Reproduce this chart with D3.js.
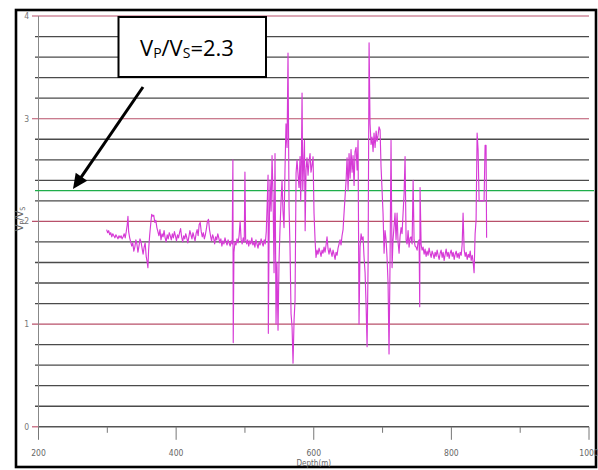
<!DOCTYPE html>
<html><head><meta charset="utf-8">
<script src="https://cdn.jsdelivr.net/npm/d3@7/dist/d3.min.js"></script>
<style>body{margin:0;background:#fff}svg{display:block}</style>
</head><body><svg id="c" width="598" height="470"></svg>
<script>
const xTicks = [200,300,400,500,600,700,800,900,1000];
const xTickLabels = ["200","400","600","800","1000"];
const yTickLabels = [0,1,2,3,4];
const threshold = 2.3;
const annotationText = ["V","P","/V","S","=2.3"];
const depth = [299,300.5,302,303.5,305,306.5,308,309.5,311,312.5,314,315.5,317,318.5,320,321.5,323,324.5,326,327.5,329,330,331,332.5,334,335.5,337,338.5,340,341.5,343,344.5,346,347.5,349,350.5,352,353.5,355,356.5,358,359,360,361.5,363,364.5,366,367.5,369,370.5,372,373.5,375,376.5,378,379.5,381,382.5,384,385.5,387,388.5,390,391.5,393,394.5,396,397.5,399,400.5,402,403.5,405,406.5,408,409.5,411,412.5,414,415.5,417,418.5,420,421.5,423,424.5,426,427.5,429,430.5,432,433.5,435,436.5,438,439.5,441,442.5,444,445.5,447,448.5,450,451.5,453,454.5,456,457.5,459,460.5,462,463.5,465,466.5,468,469.5,471,472.5,474,475.5,477,478.5,480,481.5,482.5,483,484,485.5,487,488.5,490,491.5,493,494.5,496,497.5,499,500,501,502.5,504,505.5,507,508.5,510,511.5,513,514.5,516,517.5,519,520.5,522,523.5,525,526.5,528,529.5,531,532.5,533.6,534,535,536.5,538,539.4,541,542.3,543.7,545.2,546.5,548.1,549.5,551,552.5,553.9,555.3,556.8,558.2,559.7,561.2,562.6,564.1,565.5,567,568.5,569.9,571.4,572.8,574.3,575.7,577.2,578.6,580.1,581,582,583,584,585.2,586.5,587.5,588.8,590.2,591.7,593.1,594.6,596,597.5,599,600.4,601.9,603.3,604.8,606.2,607.7,609.2,610.6,612.1,613.5,615,616.4,617.9,619.3,620.8,622.2,623.7,625.1,626.6,628,629.5,631,632.4,633.9,635.3,636.8,638.2,639.7,641.1,642.6,644,645.5,647,648.4,649.9,651.3,652.8,654.2,655.7,657.1,658.6,660,661.5,663,664.4,665.8,667.3,668.8,670.2,671.7,673.1,674.6,676,677.5,679,680.4,681.8,683.3,684.7,686.2,687.6,689.1,690.6,692,693.5,694.9,696.4,697.8,699.3,700.7,702.2,703.6,705.1,706.5,708,709.4,710.9,712.3,713.8,715.2,716.7,718.1,719.6,721.1,722.5,724,725.4,726.9,728.3,729.8,731.3,732.7,734.2,735.6,737.1,738.5,740,741.4,742.9,744.4,745.8,747.3,748.7,750.2,751.6,753.1,754,754.5,756,757.4,758.9,760.4,761.8,763.3,764.7,766.2,767.6,769.1,770.6,772,773.5,774.9,776.4,777.8,779.3,780.8,782.2,783.7,785.1,786.6,788,789.5,791,792.4,793.9,795.3,796.8,798.2,799.7,801.2,802.6,804.1,805.5,807,808.4,809.9,811.3,812.8,814.3,815.7,817,818.6,820.1,821.5,823,824.5,825.9,827.4,828.8,830.3,831.7,833,834.5,835.9,837.4,838.8,840.3,842,844,846,847.5,849,850.4,851.2];
const vpvs = [1.92,1.89,1.91,1.87,1.89,1.85,1.88,1.86,1.84,1.87,1.85,1.83,1.86,1.84,1.86,1.83,1.85,1.88,1.84,1.90,1.97,2.05,1.90,1.84,1.80,1.76,1.79,1.71,1.75,1.82,1.78,1.70,1.76,1.83,1.80,1.74,1.68,1.75,1.79,1.66,1.60,1.55,1.72,1.86,1.97,2.07,2.05,2.06,1.99,2.01,1.94,1.90,1.86,1.92,1.82,1.88,1.85,1.91,1.84,1.80,1.87,1.83,1.89,1.86,1.82,1.88,1.84,1.90,1.86,1.81,1.87,1.84,1.89,1.93,1.85,1.80,1.86,1.83,1.88,1.84,1.79,1.85,1.91,1.87,1.83,1.89,1.85,1.81,1.88,1.92,1.86,1.97,1.99,1.90,1.85,1.89,1.83,1.87,1.93,2.00,2.02,1.92,1.86,1.81,1.87,1.84,1.78,1.85,1.82,1.88,1.84,1.79,1.83,1.76,1.81,1.78,1.84,1.80,1.77,1.82,1.79,1.76,1.81,1.78,2.60,0.82,1.70,1.80,1.77,1.83,1.79,1.86,2.00,1.82,1.78,1.84,1.80,2.48,1.83,1.78,1.82,1.76,1.81,1.78,1.84,1.77,1.80,1.75,1.82,1.78,1.74,1.80,1.77,1.83,1.79,1.76,1.82,1.78,1.90,2.20,2.45,0.91,1.80,2.40,2.10,2.64,2.20,1.50,2.66,1.00,1.60,0.94,1.60,1.94,2.20,2.40,2.10,1.94,2.50,2.95,2.72,3.64,2.14,1.75,1.10,0.97,0.62,1.04,1.23,2.47,2.60,2.45,2.33,2.63,2.20,2.55,3.25,2.30,2.55,2.79,1.91,2.50,2.62,2.45,2.58,2.66,2.48,2.55,2.63,2.08,1.82,1.65,1.72,1.68,1.74,1.70,1.66,1.72,1.69,1.75,1.70,1.77,1.85,1.73,1.68,1.74,1.70,1.66,1.72,1.68,1.63,1.70,1.67,1.74,1.78,1.82,1.77,1.86,1.92,2.08,2.24,2.40,2.62,2.30,2.66,2.42,2.70,2.48,2.64,2.35,2.68,2.72,2.50,2.79,1.00,1.75,1.88,1.82,1.85,1.65,1.50,1.20,0.78,1.60,3.74,2.95,2.75,2.82,2.68,2.86,2.72,2.88,2.78,2.84,2.92,2.89,2.53,2.30,2.08,1.69,1.91,1.82,1.65,1.40,0.71,1.62,2.79,1.55,1.82,1.95,2.08,1.82,2.08,1.80,1.69,1.85,1.94,1.88,2.08,2.27,2.63,1.82,1.78,1.91,1.75,1.84,1.85,1.78,2.40,1.82,1.76,1.75,1.72,1.80,1.82,1.17,2.33,1.78,1.72,1.75,1.68,1.73,1.66,1.71,1.67,1.74,1.69,1.65,1.71,1.68,1.64,1.70,1.66,1.72,1.67,1.63,1.69,1.72,1.65,1.70,1.62,1.68,1.73,1.66,1.70,1.64,1.69,1.72,1.66,1.70,1.63,1.68,1.71,1.65,1.69,1.64,1.70,1.67,1.78,2.08,1.72,1.66,1.70,1.63,1.68,1.65,1.71,1.62,1.67,1.60,1.50,1.88,2.01,2.86,2.70,2.20,2.20,2.20,2.20,2.20,2.74,2.74,1.84];

const svg = d3.select("#c");
const x = d3.scaleLinear().domain([200,1000]).range([38.5,589]);
const y = d3.scaleLinear().domain([0,4]).range([426.8,16]);
const lblFont = "'Liberation Sans Narrow','DejaVu Sans Condensed','Liberation Sans',sans-serif";

// outer frame
svg.append("rect").attr("x",16).attr("y",10).attr("width",580).attr("height",457)
  .attr("fill","none").attr("stroke","#000").attr("stroke-width",2.6);

// horizontal gridlines every 0.2
const gridVals = d3.range(0,21).map(i=>i/5);
gridVals.forEach(v=>{
  const isInt = Math.abs(v-Math.round(v))<1e-9;
  if (v===0){
    svg.append("line").attr("x1",32).attr("x2",38.5).attr("y1",y(v)).attr("y2",y(v))
      .attr("stroke","#c05a72").attr("stroke-width",1.2);
    svg.append("line").attr("x1",38.5).attr("x2",589).attr("y1",y(v)).attr("y2",y(v))
      .attr("stroke","#555").attr("stroke-width",1.4);
  } else {
    svg.append("line").attr("x1",isInt?32:35).attr("x2",589).attr("y1",y(v)).attr("y2",y(v))
      .attr("stroke",isInt?"#b8506a":"#4a4a4a").attr("stroke-width",isInt?1.1:1.3);
  }
});

// y axis line
svg.append("line").attr("x1",38.5).attr("x2",38.5).attr("y1",16).attr("y2",438)
  .attr("stroke","#888").attr("stroke-width",1);

// x ticks
xTicks.forEach(t=>{
  const major = (t%200===0);
  svg.append("line").attr("x1",x(t)).attr("x2",x(t)).attr("y1",y(0)).attr("y2",y(0)+(major?13:6))
    .attr("stroke","#777").attr("stroke-width",1);
});
xTickLabels.forEach(t=>{
  svg.append("text").attr("x",x(+t)).attr("y",456).attr("text-anchor","middle")
    .attr("font-family",lblFont).attr("font-size",8.5).attr("fill","#666").text(t);
});
svg.append("text").attr("x",x(600)).attr("y",466).attr("text-anchor","middle")
  .attr("font-family",lblFont).attr("font-size",8).attr("fill","#666").text("Depth(m)");

yTickLabels.forEach(t=>{
  svg.append("text").attr("x",29).attr("y",y(t)+3).attr("text-anchor","end")
    .attr("font-family",lblFont).attr("font-size",8.5).attr("fill","#777").text(t);
});
// y title
const yt = svg.append("text").attr("transform","translate(23,219) rotate(-90)")
  .attr("text-anchor","middle").attr("font-family",lblFont).attr("font-size",11).attr("fill","#666");
yt.append("tspan").text("V");
yt.append("tspan").attr("font-size",7).attr("dy",2).text("P");
yt.append("tspan").attr("dy",-2).text("/V");
yt.append("tspan").attr("font-size",7).attr("dy",2).text("S");

// threshold line
svg.append("line").attr("x1",35).attr("x2",594).attr("y1",y(threshold)).attr("y2",y(threshold))
  .attr("stroke","#1fae4a").attr("stroke-width",1.4);

// data line
const pts = depth.map((d,i)=>[d,vpvs[i]]);
svg.append("path").datum(pts)
  .attr("d",d3.line().x(d=>x(d[0])).y(d=>y(d[1])))
  .attr("fill","none").attr("stroke","#d63ad6").attr("stroke-width",1.15).attr("stroke-linejoin","round");

// annotation box
svg.append("rect").attr("x",118.5).attr("y",17).attr("width",147.5).attr("height",60)
  .attr("fill","#fff").attr("stroke","#000").attr("stroke-width",2);
const at = svg.append("text").attr("x",140).attr("y",56)
  .attr("font-family","'Open Sans','Liberation Sans',sans-serif").attr("font-size",22).attr("fill","#000");
at.append("tspan").text(annotationText[0]);
at.append("tspan").attr("font-size",14).attr("dy",2).text(annotationText[1]);
at.append("tspan").attr("dy",-2).text(annotationText[2]);
at.append("tspan").attr("font-size",14).attr("dy",2).text(annotationText[3]);
at.append("tspan").attr("dy",-2).text(annotationText[4]);

// arrow
const tip = [73, y(threshold)-1.5], start=[143,87];
const dx = tip[0]-start[0], dy = tip[1]-start[1], L=Math.hypot(dx,dy);
const ux=dx/L, uy=dy/L, px=-uy, py=ux;
const hl=15, hw=7;
const bx=tip[0]-ux*hl, by=tip[1]-uy*hl;
svg.append("line").attr("x1",start[0]).attr("y1",start[1]).attr("x2",bx+ux*2).attr("y2",by+uy*2)
  .attr("stroke","#000").attr("stroke-width",3);
svg.append("polygon").attr("points",[[tip[0],tip[1]],[bx+px*hw,by+py*hw],[bx-px*hw,by-py*hw]].map(p=>p.join(",")).join(" "))
  .attr("fill","#000");
</script></body></html>
